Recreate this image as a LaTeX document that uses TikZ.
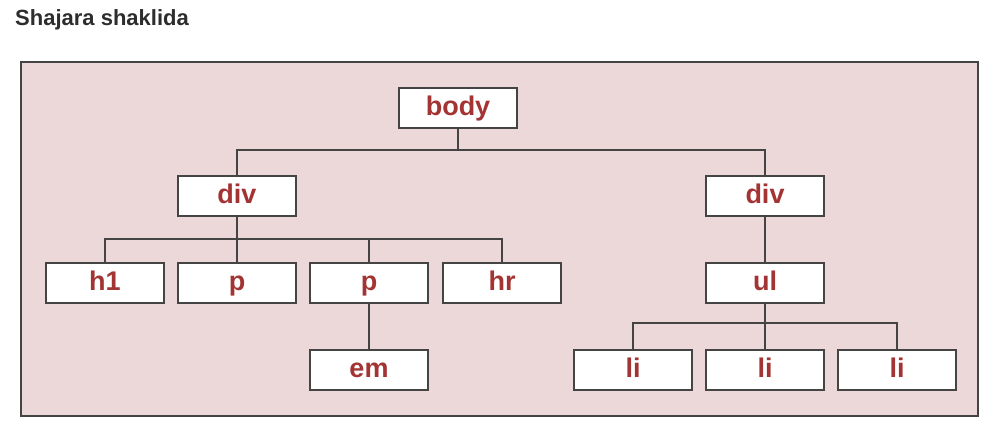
\documentclass[tikz,border=0pt]{standalone}
\usepackage{fontspec}
\setmainfont{Liberation Sans}
\usetikzlibrary{positioning}
\definecolor{treebg}{RGB}{237,216,217}
\definecolor{tagred}{RGB}{163,52,52}
\definecolor{linegray}{RGB}{68,68,68}
\definecolor{titlegray}{RGB}{45,45,45}

\begin{document}
\begin{tikzpicture}[x=1pt,y=-1pt,
    tag/.style={draw=linegray, line width=2pt, fill=white, minimum width=118pt,
      minimum height=40pt, inner sep=0pt, text=tagred, text height=19pt, text depth=3pt,
      font=\fontsize{27}{30}\selectfont\bfseries},
    link/.style={draw=linegray, line width=2pt}]
  \useasboundingbox (0,0) rectangle (1002,437);
  \node[anchor=base west, text=titlegray, font=\fontsize{22}{26}\selectfont\bfseries, inner sep=0pt]
    (title) at (15,25) {Shajara shaklida};
  \draw[draw=linegray, line width=2pt, fill=treebg] (21,62) rectangle (978,416);

  \node[tag] (body) at (458,107.5) {body};
  \node[tag] (d1) at (237,195.5) {div};
  \node[tag] (d2) at (765,195.5) {div};

  \node[tag, below = 45pt of d1] (p1) {p};
  \node[tag, left = 12pt of p1] (h1) {h1};
  \node[tag, right = 12pt of p1] (p2) {p};
  \node[tag, right = 13pt of p2] (hr) {hr};
  \node[tag, below = 45pt of p2] (em) {em};

  \node[tag, below = 45pt of d2] (ul) {ul};
  \node[tag, below = 45pt of ul] (li2) {li};
  \node[tag, left = 12pt of li2] (li1) {li};
  \node[tag, right = 12pt of li2] (li3) {li};

  \coordinate[below = 21pt of body.south] (b0);
  \coordinate[below = 22pt of d1.south] (b1);
  \coordinate[below = 19pt of ul.south] (b2);

  \draw[link] (body) -- (b0);
  \draw[link] (d1.north) |- (b0) -| (d2.north);
  \draw[link] (d1) -- (b1);
  \draw[link] (h1.north) |- (b1) -| (hr.north);
  \draw[link] (b1) -| (p2.north);
  \draw[link] (b1) -- (p1);
  \draw[link] (p2) -- (em);
  \draw[link] (d2) -- (ul);
  \draw[link] (ul) -- (b2);
  \draw[link] (li1.north) |- (b2) -| (li3.north);
  \draw[link] (b2) -- (li2);

\end{tikzpicture}
\end{document}
